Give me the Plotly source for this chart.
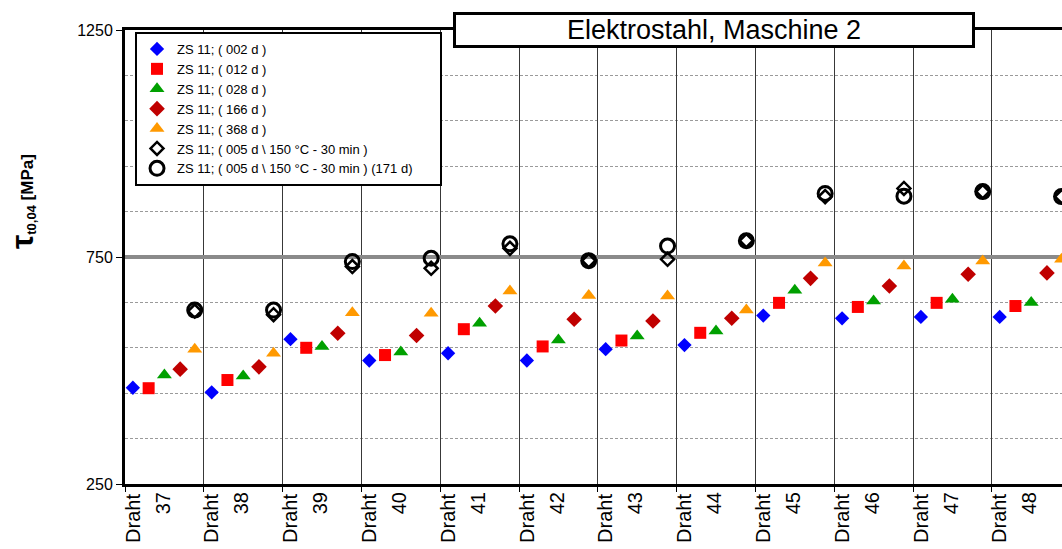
import plotly.graph_objects as go

# ---------------- data ----------------
drahte = ["37", "38", "39", "40", "41", "42", "43", "44", "45", "46", "47", "48"]

s_002d = [462, 452, 569, 522, 538, 522, 547, 556, 621, 615, 618, 618]
s_012d = [461, 479, 550, 534, 591, 553, 566, 583, 649, 640, 649, 642]
s_028d = [490, 488, 553, 541, 604, 567, 576, 587, 677, 653, 657, 650]
s_166d = [503, 508, 582, 577, 642, 613, 609, 615, 703, 686, 712, 715]
s_368d = [547, 538, 627, 626, 675, 665, 664, 633, 737, 730, 741, 745]
s_005d_150 = [631, 623, 729, 725, 769, 742, 745, 786, 883, 901, 894, 883]
s_005d_150_171d = [633, 633, 740, 747, 779, 742, 774, 786, 890, 884, 894, 883]

# position of each series inside one "Draht" group (fraction of group width)
slot_pos = [0.1, 0.3, 0.5, 0.7, 0.885]

series = [
    ("ZS 11; ( 002 d )", s_002d, 0, dict(symbol="diamond", color="#0000FF", size=11)),
    ("ZS 11; ( 012 d )", s_012d, 1, dict(symbol="square", color="#FF0000", size=12)),
    ("ZS 11; ( 028 d )", s_028d, 2, dict(symbol="triangle-up", color="#00A000", size=13)),
    ("ZS 11; ( 166 d )", s_166d, 3, dict(symbol="diamond", color="#C00000", size=12)),
    ("ZS 11; ( 368 d )", s_368d, 4, dict(symbol="triangle-up", color="#FF9900", size=13)),
    ("ZS 11; ( 005 d \\ 150 °C - 30 min )", s_005d_150, 4,
     dict(symbol="diamond-open", color="black", size=10, line=dict(width=2.5, color="black"))),
    ("ZS 11; ( 005 d \\ 150 °C - 30 min ) (171 d)" + "\u00a0" * 6, s_005d_150_171d, 4,
     dict(symbol="circle-open", color="black", size=14, line=dict(width=3, color="black"))),
]

n = len(drahte)
fig = go.Figure()
for name, vals, slot, mk in series:
    xs = [i + slot_pos[slot] for i in range(n)]
    fig.add_trace(go.Scatter(x=xs, y=vals, mode="markers", name=name,
                             marker=mk, cliponaxis=False))

# dummy trace for the secondary label axis
fig.add_trace(go.Scatter(x=[None], y=[None], xaxis="x2", showlegend=False, hoverinfo="skip"))

FONT = "Liberation Sans, Arial, sans-serif"
xmax = (1062 - 125) / 78.8

fig.update_layout(
    width=1062, height=549,
    margin=dict(l=125, r=0, t=30, b=65),
    paper_bgcolor="white", plot_bgcolor="white",
    font=dict(family=FONT, color="black"),
    showlegend=True,
    legend=dict(x=0.0107, y=0.9956, xanchor="left", yanchor="top",
                bgcolor="white", bordercolor="black", borderwidth=2,
                font=dict(size=13, family=FONT), tracegroupgap=0),
    xaxis=dict(range=[0, xmax], tickmode="array", tickvals=list(range(n)),
               ticktext=["Draht"] * n, tickangle=-90, ticklabelshift=8,
               tickfont=dict(size=20), ticks="outside", ticklen=5, tickcolor="black",
               ticklabelstandoff=-6,
               showgrid=True, gridcolor="#383838", gridwidth=1,
               showline=True, linecolor="black", linewidth=3, mirror=True,
               zeroline=False),
    xaxis2=dict(overlaying="x", anchor="y", side="bottom", range=[0, xmax],
                tickmode="array", tickvals=list(range(n)), ticktext=drahte,
                tickangle=-90, ticklabelshift=38, tickfont=dict(size=20),
                ticks="outside", ticklen=5, tickcolor="rgba(0,0,0,0)",
                ticklabelstandoff=-6,
                showgrid=False, showline=False, zeroline=False),
    yaxis=dict(range=[250, 1250], tickmode="array", tickvals=[250, 750, 1250],
               tickfont=dict(size=16), ticks="outside", ticklen=6, tickcolor="black",
               showgrid=True, gridcolor="#8a8a8a", gridwidth=4,
               showline=True, linecolor="black", linewidth=3, mirror=False,
               zeroline=False,
               minor=dict(tickvals=[350, 450, 550, 650, 850, 950, 1050, 1150],
                          showgrid=True, gridcolor="#9a9a9a", gridwidth=1,
                          griddash="3px,2px", ticks="")),
    annotations=[
        dict(text="Elektrostahl, Maschine 2", xref="paper", yref="paper",
             x=(714 - 125) / 937, y=1.0, xanchor="center", yanchor="middle",
             showarrow=False, font=dict(size=27, family=FONT),
             bgcolor="white", bordercolor="black", borderwidth=3,
             borderpad=1, width=514, height=28),
        dict(text="<b><span style='font-size:32px'>τ</span>"
                  "<sub><span style='font-size:13px'>t0,04</span></sub> [MPa]</b>",
             xref="paper", yref="paper", x=(22 - 125) / 937, y=0.621,
             xanchor="center", yanchor="middle", textangle=-90, showarrow=False,
             font=dict(size=17, family=FONT)),
    ],
)

fig.write_html("out.html")
